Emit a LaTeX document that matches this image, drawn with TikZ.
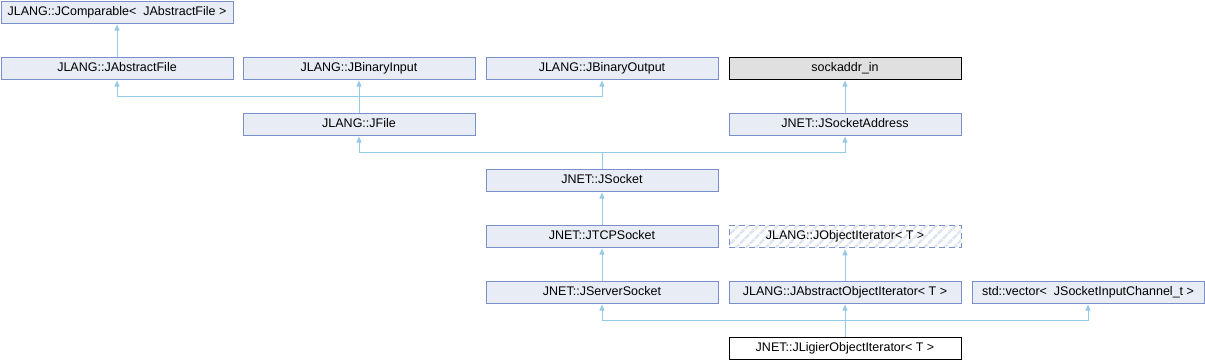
\documentclass[tikz,border=0pt]{standalone}
\usepackage{fontspec}
\setmainfont{Liberation Sans}
\usetikzlibrary{arrows.meta,patterns.meta}
\usepackage{xcolor}
\definecolor{boxFill}{RGB}{232,236,244}
\definecolor{boxLine}{RGB}{122,144,200}
\definecolor{edgeLine}{RGB}{150,202,232}
\definecolor{extFill}{RGB}{224,224,224}
\definecolor{hatchLine}{RGB}{222,228,240}

\begin{document}
\begin{tikzpicture}[
    x=1pt, y=-1pt,
    every node/.style={font=\fontsize{12.5}{14}\selectfont},
    cls/.style={draw=boxLine, fill=boxFill, line width=1pt,
      minimum width=232pt, minimum height=22pt, inner sep=0pt,
      text height=9pt, text depth=2.5pt},
    ext/.style={cls, draw=black, fill=extFill},
    focus/.style={cls, draw=black, fill=white},
    tmpl/.style={cls, fill=none, dashed, dash pattern=on 6pt off 4pt,
      pattern={Lines[angle=45, distance=7pt, line width=2.5pt]},
      pattern color=hatchLine},
    inh/.style={edgeLine, line width=1pt,
      -{Triangle[width=5pt, length=6pt]}, shorten >=1pt},
    bus/.style={edgeLine, line width=1pt},
  ]

  \useasboundingbox (0,0) rectangle (1205,360);

  % --- Row 0 ---
  \node[cls] (comparable) at (117,12) {JLANG::JComparable<\ \ JAbstractFile >};

  % --- Row 1 ---
  \node[cls] (absfile)    at (117,68) {JLANG::JAbstractFile};
  \node[cls] (bininput)   at (359,68) {JLANG::JBinaryInput};
  \node[cls] (binoutput)  at (602,68) {JLANG::JBinaryOutput};
  \node[ext] (sockaddr)   at (845,68) {sockaddr\_in};

  % --- Row 2 ---
  \node[cls] (jfile)      at (359,124) {JLANG::JFile};
  \node[cls] (sockaddress) at (845,124) {JNET::JSocketAddress};

  % --- Row 3 to 5 ---
  \node[cls]  (socket)    at (602,180) {JNET::JSocket};
  \node[cls]  (tcpsocket) at (602,236) {JNET::JTCPSocket};
  \node[tmpl] (objiter)   at (845,236) {JLANG::JObjectIterator< T >};
  \node[cls]  (srvsocket) at (602,292) {JNET::JServerSocket};
  \node[cls]  (absobjiter) at (845,292) {JLANG::JAbstractObjectIterator< T >};
  \node[cls]  (vector)    at (1088,292) {std::vector<\ \ JSocketInputChannel\_t >};

  % --- Row 6 ---
  \node[focus] (ligier)   at (845,348) {JNET::JLigierObjectIterator< T >};

  % --- Bus lines where several parents meet ---
  \coordinate (bus1) at (0,96);
  \coordinate (bus2) at (0,152);
  \coordinate (bus3) at (0,320);

  % --- Single inheritance ---
  \draw[inh] (absfile) -- (comparable);
  \draw[inh] (sockaddress) -- (sockaddr);
  \draw[inh] (tcpsocket) -- (socket);
  \draw[inh] (srvsocket) -- (tcpsocket);
  \draw[inh] (absobjiter) -- (objiter);

  % --- JFile ---
  \draw[inh] (jfile) -- (bininput);
  \draw[inh] (jfile.north |- bus1) -| (absfile.south);
  \draw[inh] (jfile.north |- bus1) -| (binoutput.south);

  % --- JSocket ---
  \draw[bus] (socket.north) -- (socket.north |- bus2);
  \draw[inh] (socket.north |- bus2) -| (jfile.south);
  \draw[inh] (socket.north |- bus2) -| (sockaddress.south);

  % --- JLigierObjectIterator ---
  \draw[inh] (ligier) -- (absobjiter);
  \draw[inh] (ligier.north |- bus3) -| (srvsocket.south);
  \draw[inh] (ligier.north |- bus3) -| (vector.south);

\end{tikzpicture}
\end{document}
